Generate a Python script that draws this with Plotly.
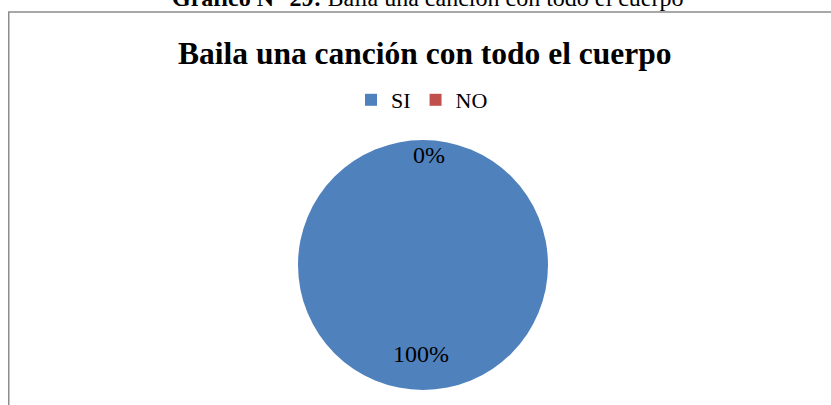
import plotly.graph_objects as go

categories = ["SI", "NO"]
values = [100, 0]
colors = ["#4F81BD", "#C0504D"]
title_text = "Baila una canción con todo el cuerpo"
caption_bold = "Gráfico N° 29:"
caption_rest = " Baila una canción con todo el cuerpo"

W, H = 831, 405


def px(x):
    return x / W


def py(y):
    return 1 - y / H


total = sum(values)
pcts = [f"{round(v / total * 100)}%" for v in values]

fig = go.Figure()
fig.add_trace(go.Pie(
    labels=categories, values=values,
    marker=dict(colors=colors, line=dict(width=0)),
    textinfo="none", sort=False, direction="clockwise", rotation=0,
    domain=dict(x=[px(298), px(548)], y=[py(390), py(140)]),
    showlegend=True, hoverinfo="label+percent",
))

label_pos = {"SI": (px(421), py(354)), "NO": (px(429), py(155))}
annotations = []
for c, p in zip(categories, pcts):
    x, y = label_pos[c]
    annotations.append(dict(x=x, y=y, xref="paper", yref="paper", text=p,
                            xanchor="center", yanchor="middle", showarrow=False,
                            font=dict(size=24, color="black", family="Liberation Serif")))

annotations.append(dict(x=px(425), y=py(54), xref="paper", yref="paper",
                        text=f"<b>{title_text}</b>", showarrow=False,
                        xanchor="center", yanchor="middle",
                        font=dict(size=31.5, color="black", family="Liberation Serif")))
annotations.append(dict(x=px(427), y=py(-2), xref="paper", yref="paper",
                        text=f"<b>{caption_bold}</b>{caption_rest}", showarrow=False,
                        xanchor="center", yanchor="middle",
                        font=dict(size=24, color="black", family="Liberation Serif")))

fig.update_layout(
    width=W, height=H,
    margin=dict(l=0, r=0, t=0, b=0),
    paper_bgcolor="white", plot_bgcolor="white",
    annotations=annotations,
    legend=dict(orientation="h", x=px(422), xanchor="center", y=py(100), yanchor="middle",
                font=dict(size=22, color="black", family="Liberation Serif"),
                itemwidth=30, tracegroupgap=0),
    shapes=[dict(type="path", xref="paper", yref="paper",
                 path=f"M {px(8.75)},0 L {px(8.75)},{py(12)} L 1,{py(12)}",
                 line=dict(color="#8c8c8c", width=1.5))],
)

fig.write_html("out.html", config={"displayModeBar": False},
               post_script="document.body.style.margin='0';document.body.style.overflow='hidden';")
